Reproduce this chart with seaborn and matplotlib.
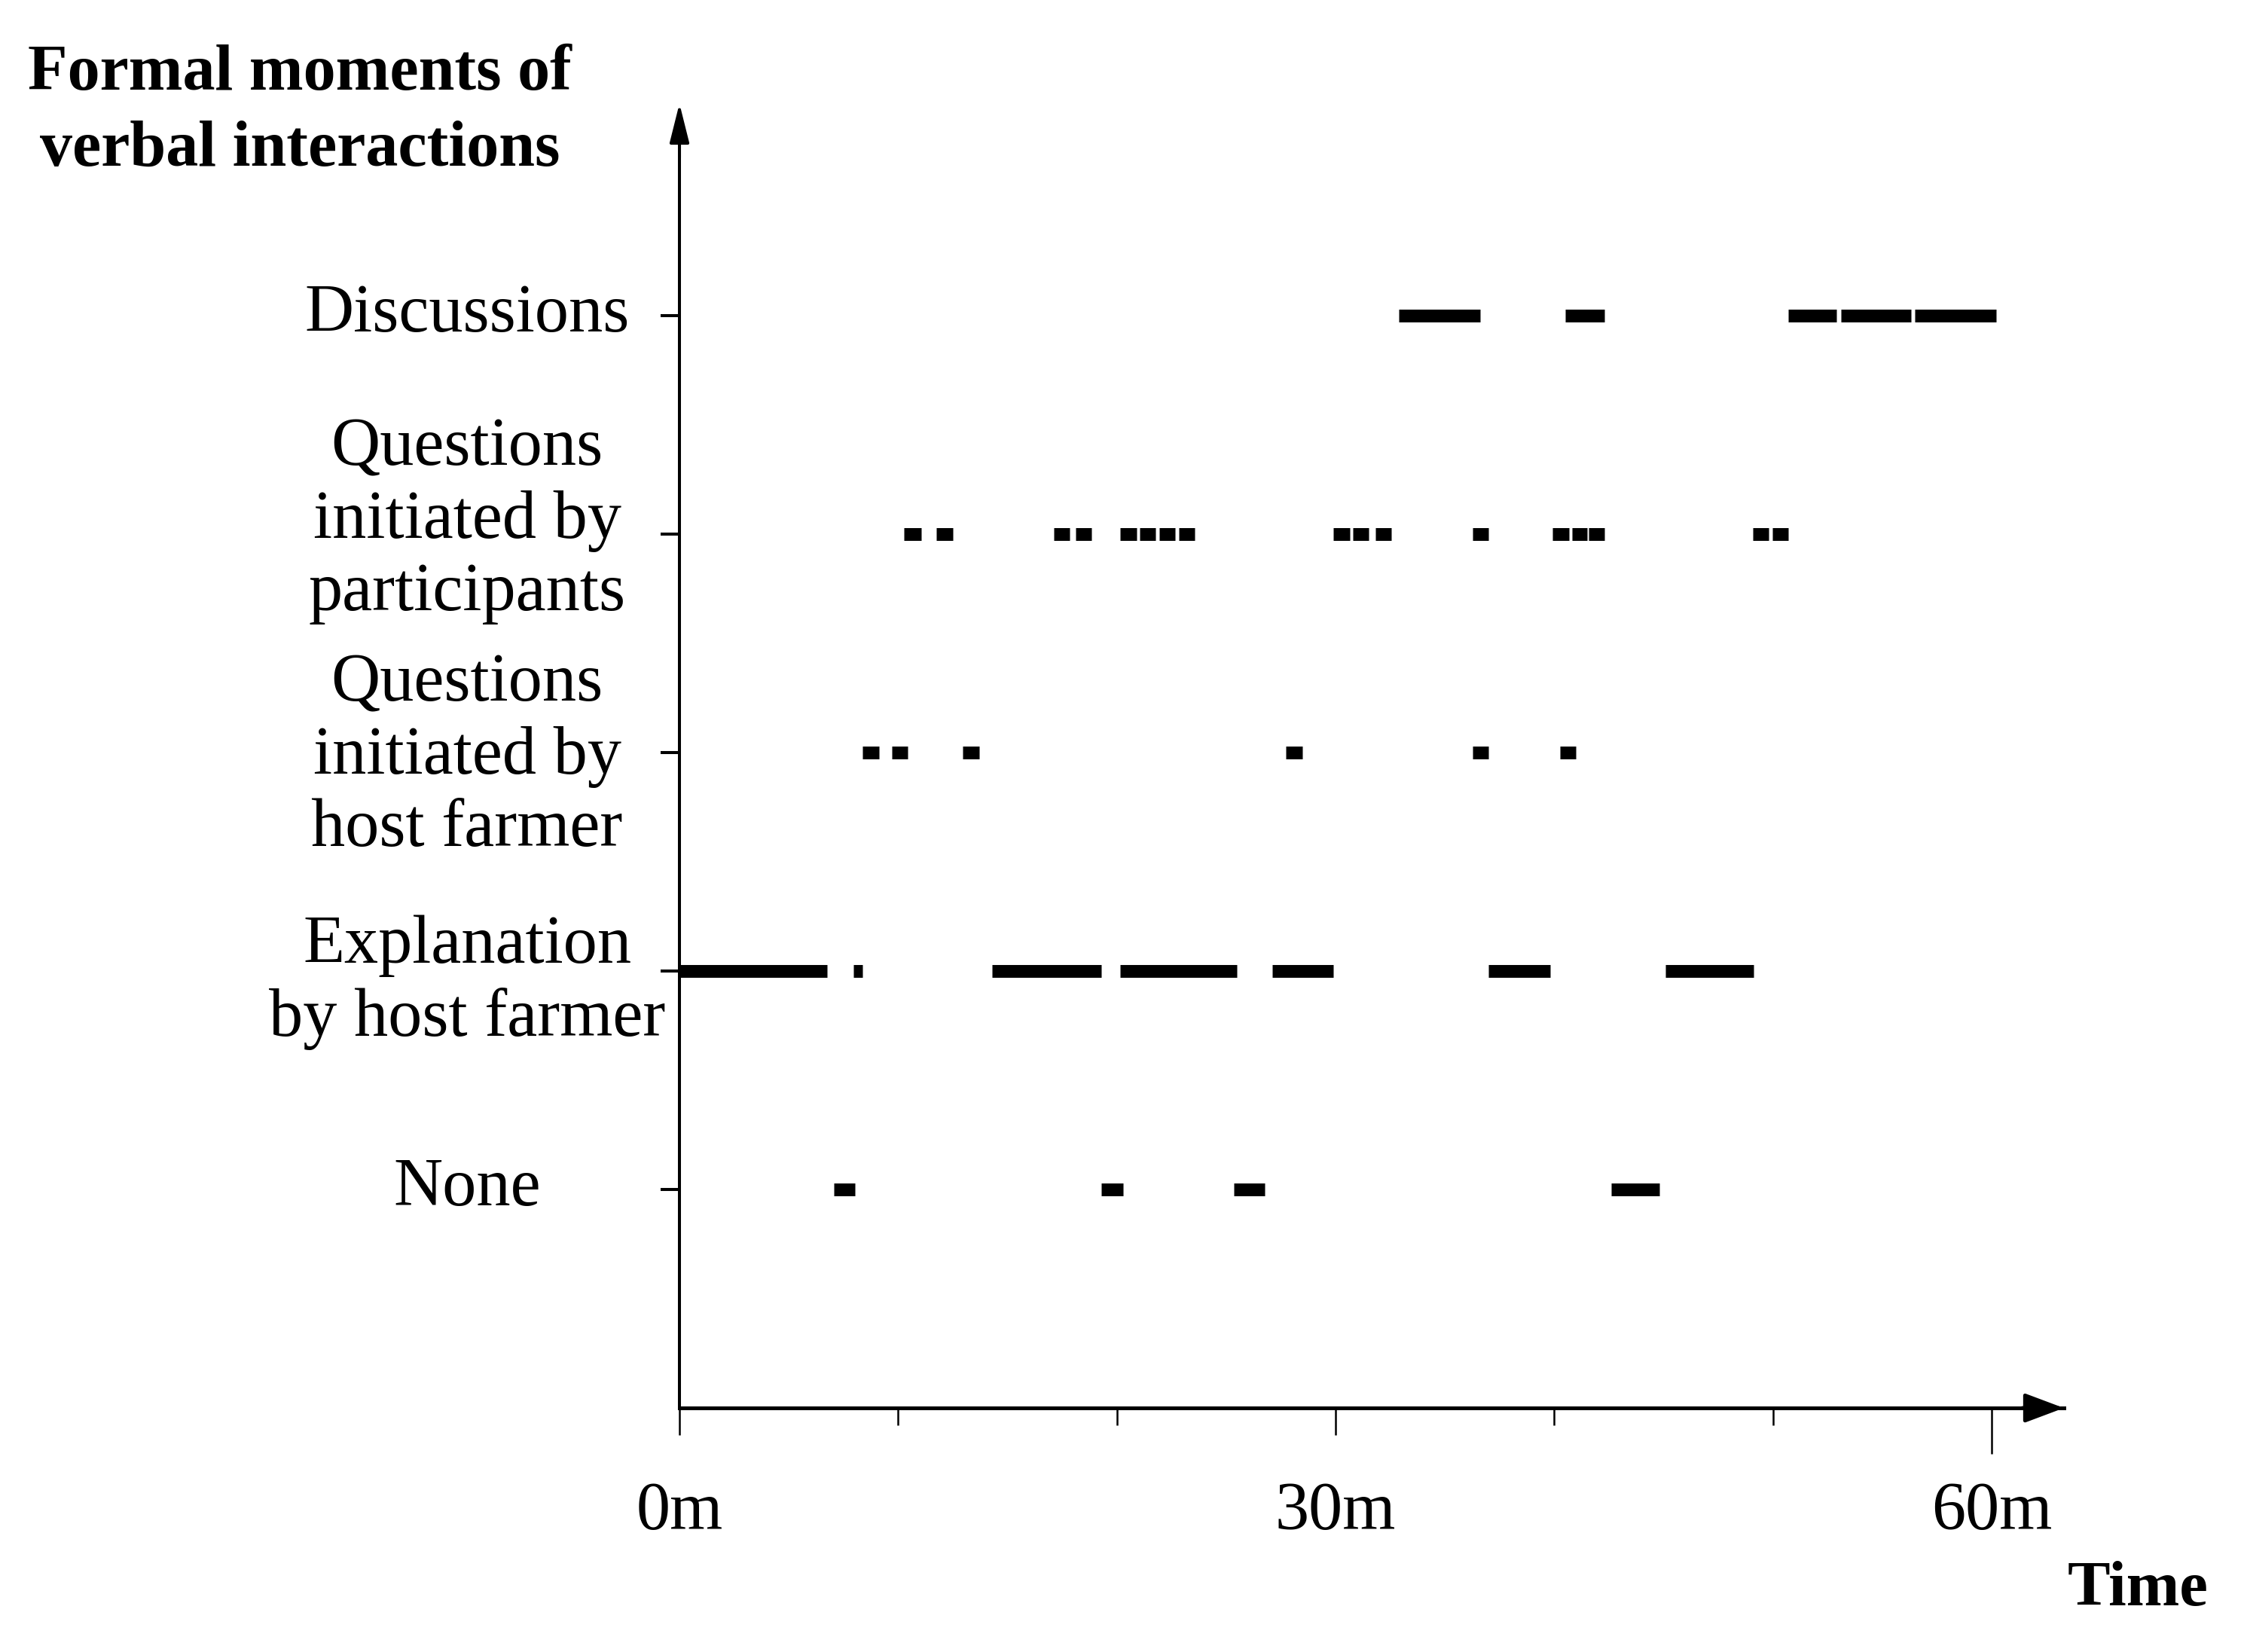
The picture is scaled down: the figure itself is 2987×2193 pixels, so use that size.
import matplotlib
matplotlib.use("Agg")
import matplotlib.pyplot as plt
from matplotlib.transforms import ScaledTranslation
import seaborn as sns
import pandas as pd

# ---- data (minutes) ----
categories = ["None", "Explanation\nby host farmer", "Questions\ninitiated by\nhost farmer",
              "Questions\ninitiated by\nparticipants", "Discussions"]

none_segments = [(7.05, 8.04), (19.3, 20.28), (25.35, 26.77), (42.6, 44.8)]
explanation_segments = [(0.0, 6.75), (7.95, 8.37), (14.3, 19.3), (20.15, 25.5),
                        (27.1, 29.9), (37.0, 39.8), (45.1, 49.1)]
questions_host_segments = [(8.37, 9.13), (9.71, 10.45), (12.95, 13.7), (27.73, 28.47),
                           (36.27, 37.0), (40.25, 40.99)]
questions_participants_segments = [(10.27, 11.06), (11.75, 12.5), (17.1, 17.84), (18.1, 18.85),
                                   (20.15, 20.9), (21.04, 21.77), (21.94, 22.67), (22.84, 23.56),
                                   (29.9, 30.65), (30.8, 31.5), (31.83, 32.55), (36.27, 37.0),
                                   (39.92, 40.68), (40.8, 41.5), (41.58, 42.3), (49.09, 49.8),
                                   (49.98, 50.7)]
discussions_segments = [(32.9, 36.6), (40.5, 42.3), (50.7, 52.9), (53.1, 56.3), (56.5, 60.2)]

x_tick_values = [0, 30, 60]
x_tick_labels = ["0m", "30m", "60m"]
x_minor_values = [10, 20, 40, 50]

all_segments = [none_segments, explanation_segments, questions_host_segments,
                questions_participants_segments, discussions_segments]

rows = []
seg_id = 0
for i, segs in enumerate(all_segments):
    for (s, e) in segs:
        rows.append({"time": s, "row": i + 1, "seg": seg_id})
        rows.append({"time": e, "row": i + 1, "seg": seg_id})
        seg_id += 1
df = pd.DataFrame(rows)

# ---- style ----
sns.set_theme(style="ticks")
plt.rcParams["font.family"] = ["Liberation Serif", "DejaVu Serif"]
plt.rcParams["lines.solid_capstyle"] = "butt"
plt.rcParams["text.color"] = "black"

fig = plt.figure(figsize=(29.87, 21.93), dpi=100)
ax = fig.add_axes([0.30198, 0.1477, 0.6153, 0.7803])

sns.lineplot(data=df, x="time", y="row", units="seg", estimator=None, sort=False,
             color="black", linewidth=12.2, ax=ax, legend=False)

ax.set_xlim(0, 63.3)
ax.set_ylim(0, 5.9)
ax.set_xlabel("")
ax.set_ylabel("")

for side in ["top", "right"]:
    ax.spines[side].set_visible(False)
ax.spines["left"].set_linewidth(2.9)
ax.spines["bottom"].set_linewidth(3.6)
ax.spines["left"].set_color("black")
ax.spines["bottom"].set_color("black")

ax.set_xticks(x_tick_values)
ax.set_xticklabels(x_tick_labels)
ax.set_xticks(x_minor_values, minor=True)
ax.tick_params(axis="x", which="major", length=26, width=1.8, pad=44, labelsize=65,
               colors="black", direction="out")
ax.tick_params(axis="x", which="minor", length=16.5, width=1.8, colors="black",
               direction="out", bottom=True)

ax.set_yticks(range(1, len(categories) + 1))
ax.set_yticklabels(categories)
ax.tick_params(axis="y", length=18, width=2.9, pad=185, labelsize=65, colors="black",
               direction="out")
label_shift_in = [0.11, 0.015, 0.11, 0.34, 0.11]
for lab, dy in zip(ax.get_yticklabels(), label_shift_in):
    lab.set_ha("center")
    lab.set_multialignment("center")
    lab.set_linespacing(1.22)
    lab.set_transform(lab.get_transform() + ScaledTranslation(0, dy, fig.dpi_scale_trans))

# longer tick at 60m
ax.xaxis.get_major_ticks()[2].tick1line.set_markersize(44)

# arrow heads
ax.annotate("", xy=(0, 1.0 + 0.012), xytext=(0, 0.97), xycoords="axes fraction",
            arrowprops=dict(arrowstyle="-|>,head_length=1.6,head_width=0.4",
                            color="black", lw=2.9, mutation_scale=20, shrinkA=0, shrinkB=0),
            annotation_clip=False)
ax.annotate("", xy=(1.0, 0), xytext=(0.97, 0), xycoords="axes fraction",
            arrowprops=dict(arrowstyle="-|>,head_length=1.6,head_width=0.6",
                            color="black", lw=3.6, mutation_scale=20, shrinkA=0, shrinkB=0),
            annotation_clip=False)

fig.text(0.1333, 0.9323, "Formal moments of\nverbal interactions", ha="center", va="center",
         fontsize=62, fontweight="bold", multialignment="center", linespacing=1.36,
         color="black")
fig.text(0.950, 0.0374, "Time", ha="center", va="center", fontsize=61, fontweight="bold",
         color="black")

fig.savefig("out.png", dpi=100, facecolor="white")
